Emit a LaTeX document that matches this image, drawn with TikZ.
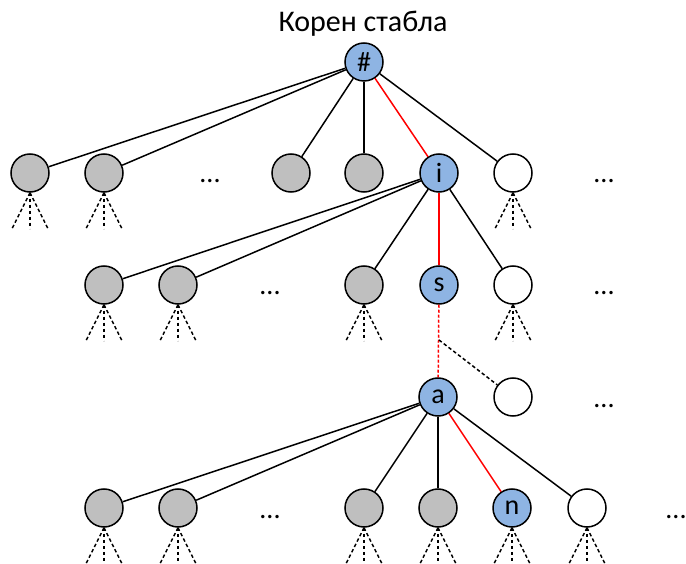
\documentclass[tikz,border=0pt]{standalone}
\usepackage{fontspec}
\setmainfont{Carlito}
\definecolor{nodeblue}{HTML}{8EB4E3}
\definecolor{nodegrey}{HTML}{BFBFBF}
\tikzset{
  knot/.style={circle,draw,line width=1.5pt,minimum size=38pt,inner sep=0pt,
    font=\fontsize{28}{28}\selectfont},
  greyknot/.style={knot,fill=nodegrey},
  blueknot/.style={knot,fill=nodeblue},
  freeknot/.style={knot,fill=white},
  link/.style={line width=1.5pt},
  redlink/.style={line width=1.5pt,red},
  fanline/.style={line width=1.5pt,dash pattern=on 3.5pt off 2.5pt},
  dots/.style={anchor=base,font=\fontsize{28}{28}\selectfont}
}
% dashed fan below a node
\newcommand\fan[1]{\foreach \dx in {-18,0,18} \draw[fanline] (#1.south) -- ++(\dx,36);}

\begin{document}
\begin{tikzpicture}[x=1pt,y=-1pt]
    \useasboundingbox (0,0) rectangle (686,564);
    \node[anchor=base,font=\fontsize{30}{30}\selectfont] (title) at (363,32) {Корен стабла};

    % root
    \node[blueknot] (root) at (364,62) {\#};

    % first level
    \node[greyknot] (l1a) at (30,173) {};
    \node[greyknot] (l1b) at (104,173) {};
    \node[dots] (d1a) at (210,183) {...};
    \node[greyknot] (l1c) at (291,173) {};
    \node[greyknot] (l1d) at (364,173) {};
    \node[blueknot] (i) at (439,173) {i};
    \node[freeknot] (l1e) at (513,173) {};
    \node[dots] (d1b) at (604,183) {...};

    % second level
    \node[greyknot] (l2a) at (104,285) {};
    \node[greyknot] (l2b) at (178,285) {};
    \node[dots] (d2a) at (270,295) {...};
    \node[greyknot] (l2c) at (364,285) {};
    \node[blueknot] (s) at (439,285) {s};
    \node[freeknot] (l2d) at (513,285) {};
    \node[dots] (d2b) at (604,295) {...};

    % deeper level
    \node[blueknot] (a) at (438,397) {a};
    \node[freeknot] (l3a) at (513,397) {};
    \node[dots] (d3a) at (604,407) {...};
    \coordinate (br) at (439,340);

    % last level
    \node[greyknot] (l4a) at (104,508) {};
    \node[greyknot] (l4b) at (178,508) {};
    \node[dots] (d4a) at (270,518) {...};
    \node[greyknot] (l4c) at (364,508) {};
    \node[greyknot] (l4d) at (438,508) {};
    \node[blueknot] (n) at (512,508) {n};
    \node[freeknot] (l4e) at (587,508) {};
    \node[dots] (d4b) at (676,518) {...};

    \foreach \c in {l1a,l1b,l1c,l1d,l1e} \draw[link] (root) -- (\c);
    \draw[redlink] (root) -- (i);
    \foreach \c in {l2a,l2b,l2c,l2d} \draw[link] (i) -- (\c);
    \draw[redlink] (i) -- (s);
    \draw[red,line width=1.5pt,dash pattern=on 3pt off 2pt] (s) -- (a);
    \draw[fanline] (br) -- (l3a);
    \foreach \c in {l4a,l4b,l4c,l4d,l4e} \draw[link] (a) -- (\c);
    \draw[redlink] (a) -- (n);

    \foreach \c in {l1a,l1b,l1e,l2a,l2b,l2c,l2d,l4a,l4b,l4c,l4d,n,l4e} {\fan{\c}}
\end{tikzpicture}
\end{document}
